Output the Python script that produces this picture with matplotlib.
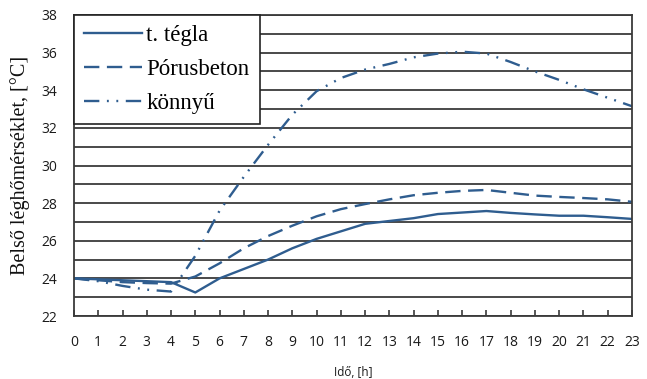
import numpy as np
import matplotlib
matplotlib.use("Agg")
import matplotlib.pyplot as plt
from matplotlib.ticker import MultipleLocator

# Hours of the day
hours = list(range(24))

# Indoor air temperature [°C] per wall type
tegla = [24.0, 23.95, 23.9, 23.85, 23.8, 23.25, 24.0, 24.5, 25.0, 25.6,
         26.1, 26.5, 26.9, 27.05, 27.2, 27.42, 27.5, 27.58, 27.48, 27.4,
         27.33, 27.33, 27.25, 27.16]
porusbeton = [24.0, 23.9, 23.8, 23.75, 23.72, 24.1, 24.8, 25.6, 26.25, 26.8,
              27.3, 27.68, 27.95, 28.2, 28.42, 28.55, 28.65, 28.7, 28.55, 28.4,
              28.33, 28.27, 28.2, 28.07]
konnyu = [24.0, 23.85, 23.6, 23.4, 23.3, 25.2, 27.6, 29.4, 31.1, 32.7,
          33.95, 34.65, 35.1, 35.4, 35.75, 35.95, 36.05, 35.95, 35.5, 35.0,
          34.55, 34.05, 33.6, 33.15]

labels = ["t. tégla", "Pórusbeton", "könnyű"]
line_color = "#2f5d8f"

fig = plt.figure(figsize=(6.47, 3.79), dpi=100)
ax = fig.add_axes([74 / 647, 1 - 316 / 379, (632 - 74) / 647, (316 - 15) / 379])

lw = 1.7
ax.plot(hours, tegla, color=line_color, lw=lw, label=labels[0])
ax.plot(hours, porusbeton, color=line_color, lw=lw, dashes=(6.5, 3.2), label=labels[1])
ax.plot(hours, konnyu, color=line_color, lw=lw,
        dashes=(6.5, 3.2, 0.8, 3.2, 0.8, 3.2), label=labels[2])

ax.set_xlim(0, 23)
ax.set_ylim(22, 38)
ax.set_xticks(hours)
ax.yaxis.set_major_locator(MultipleLocator(2))
ax.yaxis.set_minor_locator(MultipleLocator(1))
ax.grid(axis="y", which="both", color="#3a3a3a", lw=1.3)
ax.set_axisbelow(True)

for s in ax.spines.values():
    s.set_color("#3a3a3a")
    s.set_linewidth(1.3)

sans = "Open Sans"
serif = "Liberation Serif"
ax.tick_params(axis="x", direction="in", length=4.5, width=1.2, color="#3a3a3a",
               pad=14, labelsize=10)
ax.tick_params(axis="y", which="both", length=0, pad=12, labelsize=10)
for t in ax.get_xticklabels() + ax.get_yticklabels():
    t.set_fontfamily(sans)
    t.set_color("#1a1a1a")

ax.set_xlabel("Idő, [h]", fontfamily=sans, fontsize=8.5, labelpad=11, color="#1a1a1a")
ax.set_ylabel("Belső léghőmérséklet, [°C]", fontfamily=serif, fontsize=14.5,
              labelpad=8, color="#111111")

leg = ax.legend(loc="upper left", borderaxespad=0, fancybox=False, framealpha=1,
                edgecolor="#222222", handlelength=2.5, labelspacing=0.55,
                borderpad=0.45, handletextpad=0.2,
                prop={"family": serif, "size": 16.5})
leg.get_frame().set_linewidth(1.2)

plt.savefig("out.png", dpi=100)
plt.close()
